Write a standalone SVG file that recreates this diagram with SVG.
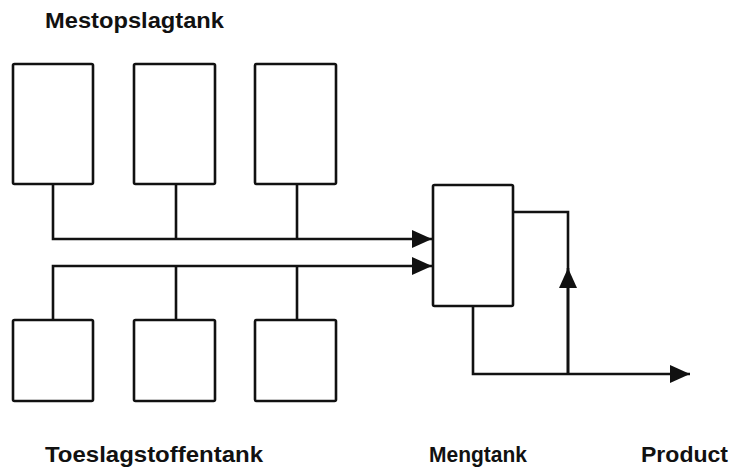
<svg xmlns="http://www.w3.org/2000/svg" width="733" height="467" viewBox="0 0 733 467">
<style>
.box{fill:#fff;stroke:#111;stroke-width:2.6;stroke-linejoin:round}
.ln{fill:none;stroke:#111;stroke-width:2.6}
.lbl{font-family:"Liberation Sans",Arial,sans-serif;font-weight:bold;font-size:22px;fill:#111}
</style>
<defs>
<marker id="ah" viewBox="0 0 20 18" refX="20" refY="9" markerWidth="20" markerHeight="18" markerUnits="userSpaceOnUse" orient="auto">
<path d="M0,0 L20,9 L0,18 Z" fill="#111"/>
</marker>
</defs>
<rect width="733" height="467" fill="#fff"/>
<g id="connectors">
<path class="ln" d="M53,184 V239 H432" marker-end="url(#ah)"/>
<path class="ln" d="M176,184 V239"/>
<path class="ln" d="M297,184 V239"/>
<path class="ln" d="M53,320 V266 H432" marker-end="url(#ah)"/>
<path class="ln" d="M176,320 V266"/>
<path class="ln" d="M297,320 V266"/>
<path class="ln" d="M473,306 V374 H690" marker-end="url(#ah)"/>
<path class="ln" d="M568,374 V212 H513"/>
<path class="ln" d="M568,374 V268" marker-end="url(#ah)"/>
</g>
<g id="mest1"><rect class="box" x="13" y="64" width="80" height="120" rx="1.5"/></g>
<g id="mest2"><rect class="box" x="134" y="64" width="81" height="120" rx="1.5"/></g>
<g id="mest3"><rect class="box" x="255" y="64" width="81" height="120" rx="1.5"/></g>
<g id="toe1"><rect class="box" x="13" y="320" width="80" height="81" rx="1.5"/></g>
<g id="toe2"><rect class="box" x="134" y="320" width="81" height="81" rx="1.5"/></g>
<g id="toe3"><rect class="box" x="255" y="320" width="81" height="81" rx="1.5"/></g>
<g id="mengtank"><rect class="box" x="433" y="185" width="80" height="121" rx="1.5"/></g>
<g id="labels">
<text class="lbl" x="45" y="28" textLength="179" lengthAdjust="spacingAndGlyphs">Mestopslagtank</text>
<text class="lbl" x="45" y="462" textLength="218" lengthAdjust="spacingAndGlyphs">Toeslagstoffentank</text>
<text class="lbl" x="429" y="462" textLength="98" lengthAdjust="spacingAndGlyphs">Mengtank</text>
<text class="lbl" x="641" y="462" textLength="87" lengthAdjust="spacingAndGlyphs">Product</text>
</g>
</svg>
